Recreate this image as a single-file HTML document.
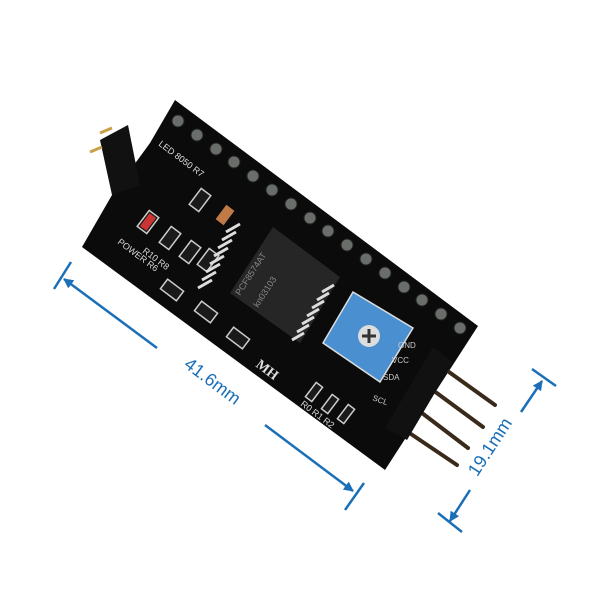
<!DOCTYPE html>
<html><head><meta charset="utf-8"><style>html,body{margin:0;padding:0;background:#fff}svg{display:block}</style></head>
<body>
<svg width="600" height="600" viewBox="0 0 600 600" xmlns="http://www.w3.org/2000/svg">
<defs>
<marker id="ar" markerWidth="10" markerHeight="10" refX="9" refY="5" orient="auto" markerUnits="userSpaceOnUse">
<path d="M0,0 L10,5 L0,10 Z" fill="#1a6fb8"/></marker>
</defs>
<!-- board -->
<polygon points="175,100 478,326 385,470 82,247 112,195 150,143" fill="#0b0b0b"/>
<!-- header holes -->
<g fill="#6a6e6a" stroke="#222" stroke-width="1">
<circle cx="178" cy="121" r="6"/><circle cx="197" cy="135" r="6"/><circle cx="216" cy="149" r="6"/><circle cx="234" cy="162" r="6"/>
<circle cx="253" cy="176" r="6"/><circle cx="272" cy="190" r="6"/><circle cx="291" cy="204" r="6"/><circle cx="310" cy="218" r="6"/>
<circle cx="328" cy="231" r="6"/><circle cx="347" cy="245" r="6"/><circle cx="366" cy="259" r="6"/><circle cx="385" cy="273" r="6"/>
<circle cx="404" cy="287" r="6"/><circle cx="422" cy="300" r="6"/><circle cx="441" cy="314" r="6"/><circle cx="460" cy="328" r="6"/>
</g>
<!-- jumper -->
<polygon points="100,140 128,125 140,185 112,195" fill="#111"/>
<line x1="100" y1="133" x2="112" y2="128" stroke="#c9a04a" stroke-width="3"/>
<line x1="90" y1="152" x2="102" y2="147" stroke="#c9a04a" stroke-width="3"/>
<!-- labels -->
<g fill="#ddd" font-family="Liberation Sans, sans-serif" font-size="9">
<text transform="translate(158,145) rotate(37)">LED 8050 R7</text>
<text transform="translate(117,243) rotate(37)">POWER R6</text>
<text transform="translate(142,252) rotate(37)">R10 R8</text>
<text transform="translate(255,366) rotate(37)" font-family="Liberation Serif, serif" font-weight="bold" font-size="14">MH</text>
<text transform="translate(300,405) rotate(37)">R0  R1  R2</text>
</g>
<!-- smd parts -->
<g fill="#1a1a1a" stroke="#ccc" stroke-width="1.5">
<rect x="-6" y="-10" width="12" height="20" transform="translate(148,222) rotate(37)"/>
<rect x="-6" y="-10" width="12" height="20" transform="translate(170,238) rotate(37)"/>
<rect x="-6" y="-10" width="12" height="20" transform="translate(190,252) rotate(37)"/>
<rect x="-6" y="-10" width="12" height="20" transform="translate(208,260) rotate(37)"/>
<rect x="-6" y="-10" width="12" height="20" transform="translate(200,200) rotate(37)"/>
<rect x="-10" y="-6" width="20" height="12" transform="translate(172,290) rotate(37)"/>
<rect x="-10" y="-6" width="20" height="12" transform="translate(206,312) rotate(37)"/>
<rect x="-10" y="-6" width="20" height="12" transform="translate(238,338) rotate(37)"/>
<rect x="-4" y="-9" width="8" height="18" transform="translate(314,392) rotate(37)"/>
<rect x="-4" y="-9" width="8" height="18" transform="translate(330,404) rotate(37)"/>
<rect x="-4" y="-9" width="8" height="18" transform="translate(346,414) rotate(37)"/>
</g>
<rect x="-5" y="-9" width="10" height="18" fill="#c07a45" transform="translate(225,215) rotate(37)"/>
<rect x="-4" y="-8" width="8" height="16" fill="#c33" transform="translate(148,222) rotate(37)"/>
<!-- IC -->
<polygon points="273,227 340,277 300,343 230,293" fill="#262626"/>
<g stroke="#ddd" stroke-width="3">
<line x1="226" y1="232" x2="240" y2="224"/><line x1="222" y1="240" x2="236" y2="232"/>
<line x1="218" y1="248" x2="232" y2="240"/><line x1="214" y1="256" x2="228" y2="248"/>
<line x1="210" y1="264" x2="224" y2="256"/><line x1="206" y1="272" x2="220" y2="264"/>
<line x1="202" y1="280" x2="216" y2="272"/><line x1="198" y1="288" x2="212" y2="280"/>
<line x1="322" y1="292" x2="334" y2="285"/><line x1="317" y1="300" x2="329" y2="293"/>
<line x1="312" y1="308" x2="324" y2="301"/><line x1="307" y1="316" x2="319" y2="309"/>
<line x1="302" y1="324" x2="314" y2="317"/><line x1="297" y1="332" x2="309" y2="325"/>
<line x1="292" y1="340" x2="304" y2="333"/>
</g>
<g fill="#888" font-family="Liberation Sans, sans-serif" font-size="9">
<text transform="translate(240,296) rotate(-57)">PCF8574AT</text>
<text transform="translate(258,308) rotate(-57)">kn03103</text>
</g>
<!-- pot -->
<polygon points="353,292 413,328 380,382 323,343" fill="#4a90d0" stroke="#ddd" stroke-width="1.5"/>
<circle cx="369" cy="336" r="11" fill="#ddd"/>
<path d="M362,336 H376 M369,329 V343" stroke="#333" stroke-width="3"/>
<!-- header block and pins -->
<g stroke="#3a2a1a" stroke-width="4" stroke-linecap="round">
<line x1="442" y1="367" x2="495" y2="405"/><line x1="430" y1="388" x2="483" y2="427"/>
<line x1="418" y1="410" x2="468" y2="448"/><line x1="405" y1="430" x2="457" y2="465"/>
</g>
<polygon points="433,347 453,362 407,440 385,428" fill="#111"/>
<g fill="#ccc" font-family="Liberation Sans, sans-serif" font-size="8">
<text x="372" y="400" transform="rotate(20 372 400)">SCL</text>
<text x="383" y="380">SDA</text>
<text x="392" y="363">VCC</text>
<text x="398" y="348">GND</text>
</g>
<!-- dimension lines -->
<g stroke="#1a6fb8" stroke-width="2.5" fill="none">
<line x1="54" y1="289" x2="71" y2="262"/>
<line x1="157" y1="348" x2="64" y2="279" marker-end="url(#ar)"/>
<line x1="265" y1="425" x2="353" y2="491" marker-end="url(#ar)"/>
<line x1="345" y1="510" x2="364" y2="483"/>
<line x1="532" y1="369" x2="556" y2="386"/>
<line x1="521" y1="412" x2="542" y2="381" marker-end="url(#ar)"/>
<line x1="438" y1="513" x2="462" y2="532"/>
<line x1="470" y1="490" x2="450" y2="521" marker-end="url(#ar)"/>
</g>
<g fill="#1a6fb8" font-family="Liberation Sans, sans-serif" font-size="18">
<text text-anchor="middle" transform="translate(209,386) rotate(37)">41.6mm</text>
<text text-anchor="middle" transform="translate(495,450) rotate(-57)">19.1mm</text>
</g>
</svg>
</body></html>
